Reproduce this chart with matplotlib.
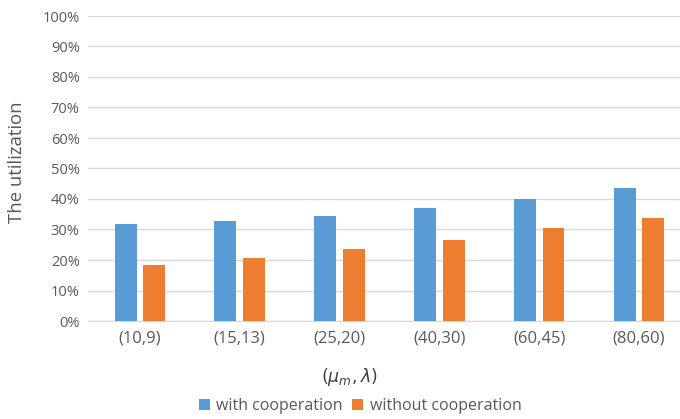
import matplotlib
matplotlib.use("Agg")
import matplotlib.pyplot as plt
import numpy as np
from matplotlib.ticker import PercentFormatter

categories = ["(10,9)", "(15,13)", "(25,20)", "(40,30)", "(60,45)", "(80,60)"]
with_coop = [0.317, 0.328, 0.345, 0.369, 0.400, 0.437]
without_coop = [0.184, 0.206, 0.236, 0.266, 0.306, 0.339]
series_names = ["with cooperation", "without cooperation"]

plt.rcParams['font.family'] = ['Open Sans', 'DejaVu Sans']

fig = plt.figure(figsize=(6.8, 4.19), dpi=100)
ax = fig.add_axes([88/680, 98/419, 592/680, 305/419])

x = np.arange(len(categories))
w = 0.22
off = 0.143
blue = "#5B9BD5"
orange = "#ED7D31"
ax.bar(x - off, with_coop, w, color=blue, label=series_names[0], zorder=3)
ax.bar(x + off, without_coop, w, color=orange, label=series_names[1], zorder=3)

ax.set_ylim(0, 1.0)
ax.set_xlim(-0.52, 5.41)
ax.set_yticks(np.arange(0, 1.01, 0.1))
ax.yaxis.set_major_formatter(PercentFormatter(1.0, decimals=0))
ax.set_xticks(x)
ax.set_xticklabels(categories)
ax.grid(axis='y', color='#d9d9d9', linewidth=1, zorder=0)
for s in ['top', 'right', 'left']:
    ax.spines[s].set_visible(False)
ax.spines['bottom'].set_color('#d9d9d9')
ax.tick_params(axis='y', length=0, labelsize=10.5, colors='#595959', pad=6)
ax.tick_params(axis='x', length=0, labelsize=12, colors='#595959', pad=7)

fig.text(17/680, (419-162)/419, "The utilization", rotation=90, ha='center', va='center',
         fontsize=13.3, color='#595959')
fig.text(349/680, (419-377)/419, r"$(\mu_m,\lambda)$", ha='center', va='center',
         fontsize=12.5, color='#404040')

ax.legend(loc='center', bbox_to_anchor=(360/680, (419-406)/419), bbox_transform=fig.transFigure,
          ncol=2, frameon=False, fontsize=11.5, handlelength=0.7, handleheight=0.7,
          handletextpad=0.4, columnspacing=0.6, labelcolor='#595959')

fig.savefig("out.png", dpi=100)
